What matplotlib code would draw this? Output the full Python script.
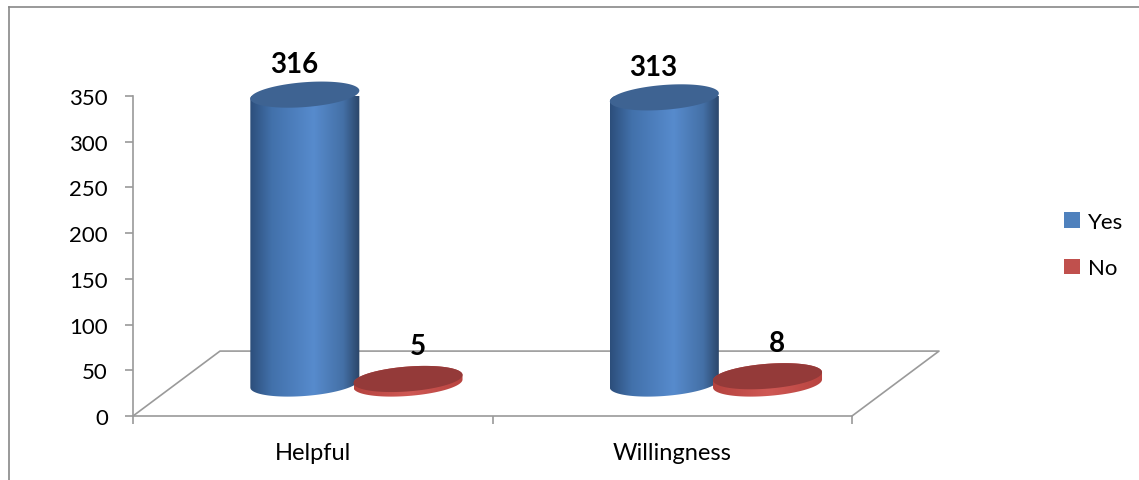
import numpy as np
import matplotlib.pyplot as plt
from matplotlib.colors import LinearSegmentedColormap
from matplotlib.patches import Polygon, Patch
from matplotlib.lines import Line2D

plt.rcParams['font.family'] = ['Lato', 'DejaVu Sans']

categories = ['Helpful', 'Willingness']
yes_values = [316, 313]
no_values = [5, 8]
y_ticks = [0, 50, 100, 150, 200, 250, 300, 350]

W, H = 1139, 481
fig = plt.figure(figsize=(W / 100, H / 100), dpi=100)
ax = fig.add_axes([133 / W, 64 / H, 719 / W, 320 / H])
ax.set_xlim(0, 2)
ax.set_ylim(0, 350)

grey = '#9a9a9a'
# floor depth (oblique projection), in data units
depth_x, depth_y = 0.242, 71.0
base = depth_y / 2

# floor outline
fx = [0, depth_x, 2 + depth_x, 2]
fy = [0, depth_y, depth_y, 0]
ax.plot(fx, fy, color=grey, lw=1.2, clip_on=False, zorder=1)

# cylinder geometry
a = 0.1516   # half width (category units)
b = 13.6     # ellipse half height (value units)
s = 4.4      # tilt of the ellipse


def ellipse(cx, cy, t):
    return cx + a * np.cos(t), cy + b * np.sin(t) + s * np.cos(t)


blue_cmap = LinearSegmentedColormap.from_list('b', [
    (0.0, '#2c4e7b'), (0.2, '#4271ab'), (0.58, '#578bcd'),
    (0.85, '#4470a6'), (1.0, '#2a4468')])
red_cmap = LinearSegmentedColormap.from_list('r', [
    (0.0, '#b5433f'), (0.5, '#cf5955'), (1.0, '#b8433f')])


def cylinder(cx, value, cmap, top_color, z):
    top = base + value
    t1 = np.linspace(np.pi, 2 * np.pi, 80)
    bx, by = ellipse(cx, base, t1)
    t2 = np.linspace(0, np.pi, 80)
    tx, ty = ellipse(cx, top, t2)
    body = Polygon(np.column_stack([np.r_[bx, tx], np.r_[by, ty]]),
                   closed=True, facecolor='none', edgecolor='none',
                   clip_on=False, zorder=z)
    ax.add_patch(body)
    grad = np.linspace(0, 1, 256).reshape(1, -1)
    im = ax.imshow(grad, cmap=cmap, aspect='auto', origin='lower',
                   extent=[cx - a, cx + a, base - b - s, top + b + s],
                   zorder=z, clip_on=True)
    im.set_clip_path(body)
    tt = np.linspace(0, 2 * np.pi, 160)
    ex, ey = ellipse(cx, top, tt)
    ax.add_patch(Polygon(np.column_stack([ex, ey]), closed=True,
                         facecolor=top_color, edgecolor='none',
                         clip_on=False, zorder=z + 0.1))
    return top


offsets_yes = 0.357
offsets_no = 0.644
for i, cat in enumerate(categories):
    cy_x = i + offsets_yes + depth_x / 2
    cn_x = i + offsets_no + depth_x / 2
    t_yes = cylinder(cy_x, yes_values[i], blue_cmap, '#3e6392', 3)
    t_no = cylinder(cn_x, no_values[i], red_cmap, '#943a39', 4)
    ax.annotate(str(yes_values[i]), (cy_x, t_yes), xytext=(-8, 22),
                textcoords='offset points', ha='center', va='center',
                fontsize=20, fontweight='bold', annotation_clip=False)
    ax.annotate(str(no_values[i]), (cn_x, t_no), xytext=(7, 24),
                textcoords='offset points', ha='center', va='center',
                fontsize=20, fontweight='bold', annotation_clip=False)

ax.set_xlim(0, 2)
ax.set_ylim(0, 350)
ax.set_aspect('auto')
ax.patch.set_alpha(0)

for sp in ['top', 'right']:
    ax.spines[sp].set_visible(False)
for sp in ['left', 'bottom']:
    ax.spines[sp].set_color(grey)
    ax.spines[sp].set_linewidth(1.2)
ax.set_yticks(y_ticks)
ax.tick_params(axis='y', length=6, width=1.2, color=grey, pad=12,
               labelsize=16)
ax.set_xticks([0, 1, 2])
ax.set_xticklabels([])
ax.set_xticks([0.5, 1.5], minor=True)
ax.set_xticklabels(categories, minor=True)
ax.tick_params(axis='x', which='major', length=6, width=1.2, color=grey)
ax.tick_params(axis='x', which='minor', length=0, pad=19, labelsize=17)

# legend
handles = [Patch(facecolor='#4f81bd', label='Yes'),
           Patch(facecolor='#c0504d', label='No')]
fig.legend(handles=handles, loc='center left',
           bbox_to_anchor=(1044 / W, 1 - 246 / H), frameon=False,
           fontsize=16, handlelength=0.7, handleheight=0.7,
           handletextpad=0.4, labelspacing=1.2)

# outer chart border
fig.add_artist(Line2D([8.5 / W, 8.5 / W], [0, 1 - 7.5 / H],
                      transform=fig.transFigure, color='#888888', lw=1.2))
fig.add_artist(Line2D([8.5 / W, 1], [1 - 7.5 / H, 1 - 7.5 / H],
                      transform=fig.transFigure, color='#888888', lw=1.2))

fig.savefig('out.png', dpi=100)
